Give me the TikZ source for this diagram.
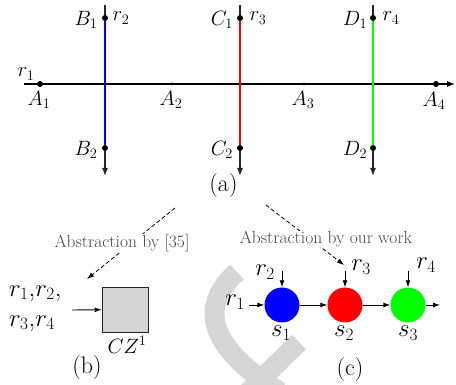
\documentclass[tikz,border=0pt]{standalone}
\usetikzlibrary{arrows.meta}
\begin{document}
\begin{tikzpicture}[x=1pt,y=-1pt,
  arr/.style={line width=0.9pt,-{Latex[length=7pt,width=5pt]}},
  dot/.style={circle,fill=black,inner sep=0pt,minimum size=6pt},
  sdot/.style={circle,fill=black,inner sep=0pt,minimum size=3pt},
  lbl/.style={font=\fontsize{20}{21}\selectfont,inner sep=0pt},
  big/.style={font=\fontsize{27}{28}\selectfont,inner sep=0pt},
  mid/.style={font=\fontsize{21}{22}\selectfont,inner sep=0pt},
  capt/.style={font=\fontsize{24}{25}\selectfont,inner sep=0pt},
  abst/.style={font=\fontsize{17.5}{18}\selectfont,text=black!72,fill=white,inner sep=0.5pt},
  wm/.style={line width=20pt,black!16},
  vline/.style={line width=1.1pt,black!85},
  colline/.style={line width=2pt},
  dsh/.style={dash pattern=on 4pt off 2.5pt,line width=0.8pt,-{Latex[length=7pt,width=5pt]}},
  st/.style={circle,inner sep=0pt,minimum size=35pt}
]
\useasboundingbox (0,0) rectangle (456,385);
% watermark
\draw[wm] (237,272) .. controls (200,305) and (205,345) .. (280,392);
\draw[wm] (299,342) -- (240,400);

% (a) axis
\coordinate (L) at (24,84);
\coordinate (R) at (455,84);
\node[dot] (A1) at (40,84) {};
\node[sdot] (A2) at (172,84) {};
\node[sdot] (A3) at (304,84) {};
\node[dot] (A4) at (436,84) {};
\draw[line width=2.4pt] (L) -- (A1);
\draw[line width=2.4pt] (A1) -- (A4);
\draw[line width=1.2pt,-{Latex[length=8pt,width=6pt]}] (A4) -- (R);

% vertical lines
\foreach \n/\x/\c in {B/105/blue,C/240/red,D/373/green}{
  \coordinate (\n t) at (\x,5);
  \coordinate (\n b) at (\x,176);
  \node[dot] (\n1) at (\x,18) {};
  \node[dot] (\n2) at (\x,148) {};
  \draw[vline] (\n t) -- (\n1);
  \draw[vline,-{Latex[length=8pt,width=6pt]}] (\n2) -- (\n b);
  \draw[colline,\c] (\n1) -- (\n2);
}

% labels (a)
\node[lbl] (lA1) at (39,100) {$A_1$};
\node[lbl] (lA2) at (171,100) {$A_2$};
\node[lbl] (lA3) at (303,100) {$A_3$};
\node[lbl] (lA4) at (434,101) {$A_4$};
\node[lbl] (lr1) at (26,74) {$r_1$};
\node[lbl] (lB1) at (86,20) {$B_1$};
\node[lbl] (lB2) at (86,150) {$B_2$};
\node[lbl] (lC1) at (222,20) {$C_1$};
\node[lbl] (lC2) at (222,150) {$C_2$};
\node[lbl] (lD1) at (355,20) {$D_1$};
\node[lbl] (lD2) at (355,150) {$D_2$};
\node[lbl] (lr2) at (121,18) {$r_2$};
\node[lbl] (lr3) at (258,18) {$r_3$};
\node[lbl] (lr4) at (391,18) {$r_4$};
\node[capt] (capa) at (223.5,186) {(a)};

% dashed arrows
\coordinate (d1s) at (175,208);
\coordinate (d1e) at (87,279);
\coordinate (d2s) at (266,205);
\coordinate (d2e) at (344,265);
\draw[dsh] (d1s) -- (d1e);
\draw[dsh] (d2s) -- (d2e);
\node[abst] (ab1) at (122,243) {Abstraction by [35]};
\node[abst] (ab2) at (326,239) {Abstraction by our work};

% (b)
\node[draw=black!85,fill=black!17,line width=0.8pt,minimum width=46pt,minimum height=45pt,inner sep=0pt] (cz) at (125,309.5) {};
\coordinate (bin) at (72,310);
\draw[arr] (bin) -- (cz);
\node[big,anchor=west] (rb1) at (9,293.5) {$r_1$,$r_2$,};
\node[big,anchor=west] (rb2) at (9,323.5) {$r_3$,$r_4$};
\node[mid] (czl) at (127,345) {$CZ^1$};
\node[capt] (capb) at (87,367.5) {(b)};

% (c)
\node[st,fill=blue] (c1) at (282,305) {};
\node[st,fill=red] (c2) at (345,305) {};
\node[st,fill=green] (c3) at (408,305) {};
\coordinate (in1) at (249,305);
\coordinate (out) at (440,305);
\coordinate (t1) at (282,271);
\coordinate (t2) at (345,271);
\coordinate (t3) at (408,271);
\draw[arr] (in1) -- (c1);
\draw[arr] (c1) -- (c2);
\draw[arr] (c2) -- (c3);
\draw[arr] (c3) -- (out);
\draw[arr] (t1) -- (c1);
\draw[arr] (t2) -- (c2);
\draw[arr] (t3) -- (c3);
\node[big] (cr1) at (235,302) {$r_1$};
\node[big] (cr2) at (265,272) {$r_2$};
\node[big] (cr3) at (361,267) {$r_3$};
\node[big] (cr4) at (426,265) {$r_4$};
\node[big] (cs1) at (281,333) {$s_1$};
\node[big] (cs2) at (344,333) {$s_2$};
\node[big] (cs3) at (408,333) {$s_3$};
\node[capt] (capc) at (350,370) {(c)};
\end{tikzpicture}
\end{document}
